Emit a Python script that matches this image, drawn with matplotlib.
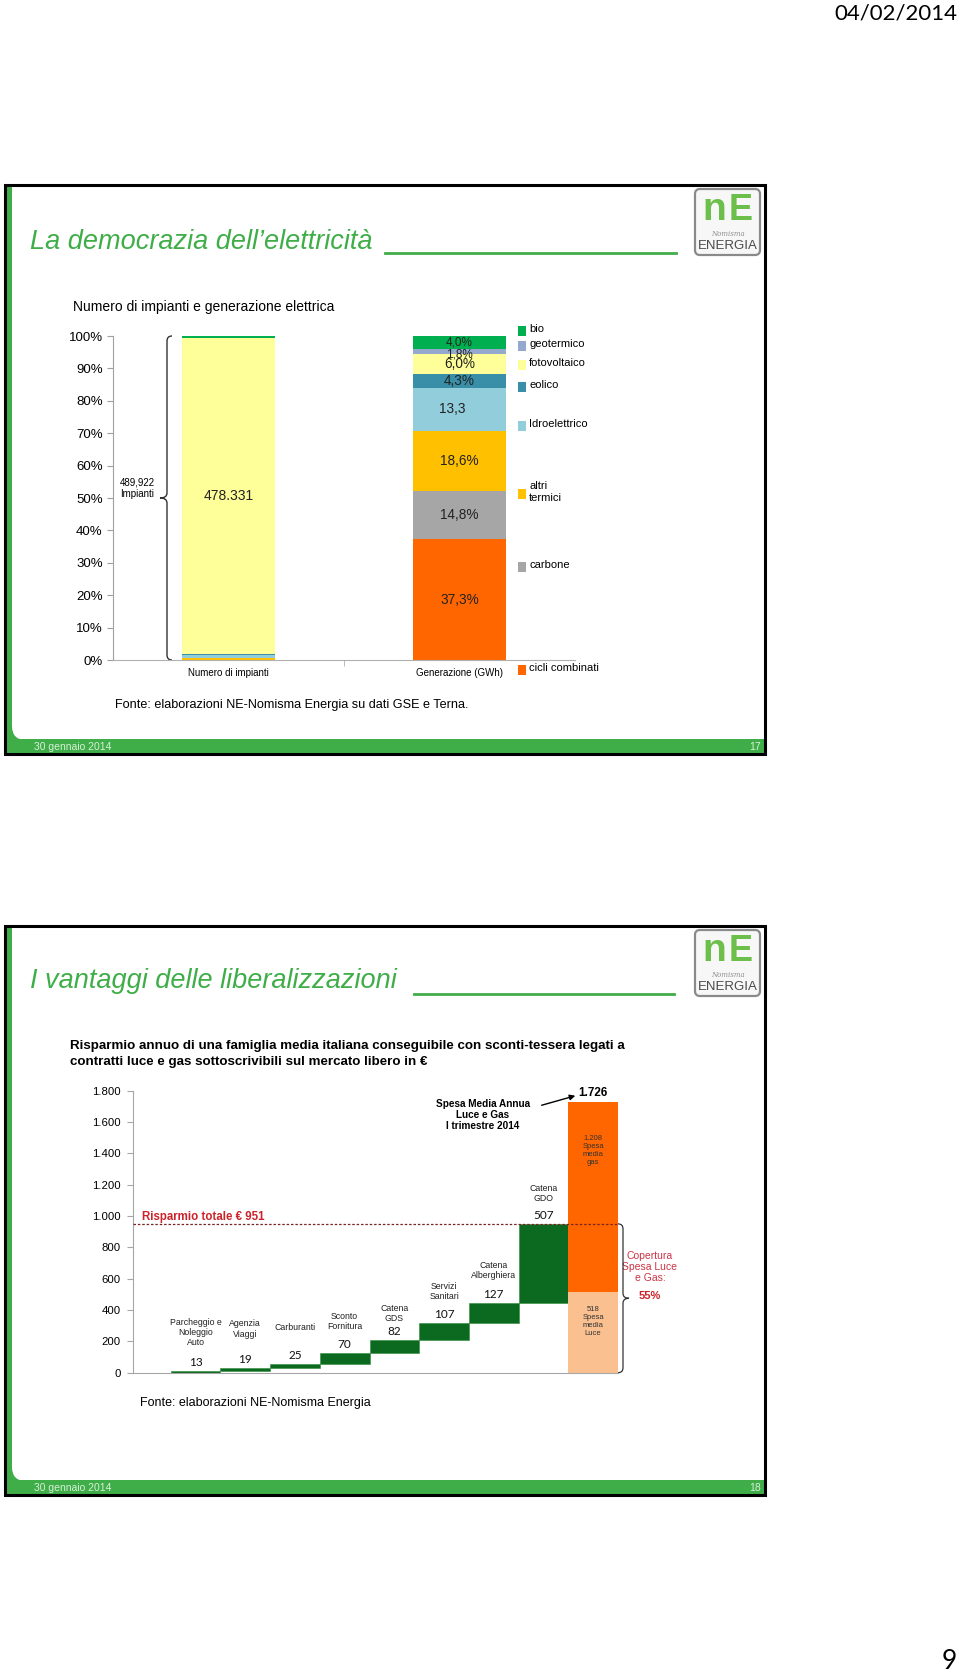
import matplotlib
matplotlib.use("Agg")
import matplotlib.pyplot as plt
from matplotlib import font_manager as fm
from matplotlib.patches import Rectangle, FancyBboxPatch, PathPatch
from matplotlib.path import Path

# ---------------- data ----------------
gen_sources = ["cicli combinati", "carbone", "altri\ntermici", "Idroelettrico",
               "eolico", "fotovoltaico", "geotermico", "bio"]
gen_colors = ["#FF6600", "#A6A6A6", "#FFC000", "#92CDDC",
              "#3A8FA8", "#FFFF99", "#95A9CF", "#00B050"]
categories1 = ["Numero di impianti", "Generazione (GWh)"]
plants_share = [0.05, 0.01, 0.70, 0.65, 0.40, 97.63, 0.01, 0.55]
generation_share = [37.3, 14.8, 18.6, 13.3, 4.3, 6.0, 1.8, 4.0]
generation_labels = ["37,3%", "14,8%", "18,6%", "13,3", "4,3%", "6,0%", "1,8%", "4,0%"]
plants_pv_label = "478.331"
plants_total_label = "489,922\nImpianti"
y1_ticks = [0, 10, 20, 30, 40, 50, 60, 70, 80, 90, 100]
y1_ticklabels = ["0%", "10%", "20%", "30%", "40%", "50%", "60%", "70%", "80%", "90%", "100%"]

saving_items = ["Parcheggio e\nNoleggio\nAuto", "Agenzia\nViaggi", "Carburanti",
                "Sconto\nFornitura", "Catena\nGDS", "Servizi\nSanitari",
                "Catena\nAlberghiera", "Catena\nGDO"]
saving_values = [13, 19, 25, 70, 82, 107, 127, 507]
spesa_luce = 518
spesa_gas = 1208
spesa_totale = 1726
y2_ticks = [0, 200, 400, 600, 800, 1000, 1200, 1400, 1600, 1800]
y2_ticklabels = ["0", "200", "400", "600", "800", "1.000", "1.200", "1.400", "1.600", "1.800"]

# ---------------- fonts ----------------
names = {f.name for f in fm.fontManager.ttflist}
SANS = "Liberation Sans"
NARROW = "Liberation Sans Narrow" if "Liberation Sans Narrow" in names else SANS
plt.rcParams["font.family"] = [SANS, "DejaVu Sans"]

W, H = 960, 1676
fig = plt.figure(figsize=(W / 100, H / 100), dpi=100)
fig.patch.set_facecolor("white")

bg = fig.add_axes([0, 0, 1, 1])
bg.set_xlim(0, W)
bg.set_ylim(H, 0)
bg.axis("off")
bg.set_zorder(0)

GREEN = "#3FAE49"


def to_px(ax, x, y):
    dx, dy = ax.transData.transform((x, y))
    return dx, H - dy


def slide(top, bottom, title, title_y, line_x0, line_x1, line_y, num):
    bg.add_patch(Rectangle((5, top), 760, bottom - top, fill=False, ec="black", lw=2.2, zorder=3))
    bg.add_patch(Rectangle((6, top + 1), 6, bottom - top - 2, fc=GREEN, ec="none", zorder=2))
    bg.add_patch(Rectangle((6, bottom - 15), 758, 14, fc=GREEN, ec="none", zorder=2))
    verts = [(12, bottom - 28), (12, bottom - 14), (26, bottom - 14), (12, bottom - 14), (12, bottom - 28)]
    codes = [Path.MOVETO, Path.CURVE3, Path.CURVE3, Path.LINETO, Path.CLOSEPOLY]
    bg.add_patch(PathPatch(Path(verts, codes), fc=GREEN, ec="none", zorder=2))
    bg.text(34, bottom - 7, "30 gennaio 2014", color="#D8F0D8", fontsize=7.5,
            family=NARROW, va="center", ha="left", zorder=4)
    bg.text(761, bottom - 7, num, color="#D8F0D8", fontsize=7.5,
            family=NARROW, va="center", ha="right", zorder=4)
    bg.text(30, title_y, title, color=GREEN, fontsize=19.5, style="italic",
            va="center", ha="left", zorder=4)
    bg.plot([line_x0, line_x1], [line_y, line_y], color=GREEN, lw=2, zorder=4)
    # logo
    lt = top + 2
    bg.add_patch(FancyBboxPatch((696, lt + 3), 63, 64, boxstyle="round,pad=1,rounding_size=5",
                                fc="#F7F7F7", ec="#8A8A8A", lw=1.6, zorder=4))
    bg.text(714, lt + 23, "n", color="#6CBF4A", fontsize=28, weight="bold",
            ha="center", va="center", zorder=5)
    bg.text(741, lt + 23, "E", color="#6CBF4A", fontsize=26, weight="bold",
            ha="center", va="center", zorder=5)
    bg.text(728, lt + 47, "Nomisma", color="#909090", fontsize=5, style="italic",
            family="DejaVu Serif", ha="center", va="center", zorder=5)
    bg.text(728, lt + 59, "ENERGIA", color="#4A4A4A", fontsize=9.5,
            family=NARROW, ha="center", va="center", zorder=5)


# page header / footer
bg.text(957, 14, "04/02/2014", fontsize=16, family="Lato", ha="right", va="center")
bg.text(957, 1674, "9", fontsize=19, family="Lato", ha="right", va="bottom")

slide(185, 754, "La democrazia dell\u2019elettricit\u00e0", 242, 385, 676, 253, "17")
slide(926, 1495, "I vantaggi delle liberalizzazioni", 981, 414, 674, 994, "18")

# ---------------- chart 1 ----------------
bg.text(73, 307, "Numero di impianti e generazione elettrica", fontsize=10,
        family=NARROW, ha="left", va="center")

ax1 = fig.add_axes([113 / W, 1 - 660 / H, 462 / W, 324 / H])
ax1.set_facecolor("none")
ax1.set_zorder(2)
ax1.set_xlim(-0.5, 1.5)
ax1.set_ylim(0, 100)
for series_idx in range(2):
    values = plants_share if series_idx == 0 else generation_share
    bottom = 0
    for v, c in zip(values, gen_colors):
        ax1.bar(series_idx, v, bottom=bottom, width=0.4, color=c, lw=0)
        bottom += v

bottom = 0
for i, (v, lab) in enumerate(zip(generation_share, generation_labels)):
    dx = -0.033 if lab == "13,3" else 0
    dy = 0
    fs = 9.8
    if lab == "1,8%":
        dy = -0.8
        fs = 8.5
    if lab == "4,0%":
        fs = 8.5
    ax1.text(1 + dx, bottom + v / 2 + dy, lab, ha="center", va="center",
             fontsize=fs, color="#222222", zorder=5)
    bottom += v
ax1.text(0, 50.5, plants_pv_label, ha="center", va="center", fontsize=10, color="#222222")

for s in ["top", "right"]:
    ax1.spines[s].set_visible(False)
ax1.spines["left"].set_color("#A0A0A0")
ax1.spines["bottom"].set_color("#B0B0B0")
ax1.set_yticks(y1_ticks)
ax1.set_yticklabels(y1_ticklabels, fontsize=9.5)
ax1.tick_params(axis="y", length=4, color="#A0A0A0", pad=3.5)
ax1.set_xticks([0, 1])
ax1.set_xticklabels(categories1, fontsize=7, family=NARROW)
ax1.tick_params(axis="x", length=0, pad=6)
ax1.set_xticks([0.5], minor=True)
ax1.tick_params(axis="x", which="minor", length=4, color="#B0B0B0")

# brace for plant count
x_b = 167
_, yt = to_px(ax1, 0, 100)
_, yb = to_px(ax1, 0, 0)
_, ym = to_px(ax1, 0, 50)
d, tip = 5, 7
verts = [(x_b + d, yt), (x_b, yt), (x_b, yt + d), (x_b, ym - d), (x_b, ym), (x_b - tip, ym),
         (x_b, ym), (x_b, ym + d), (x_b, yb - d), (x_b, yb), (x_b + d, yb)]
codes = [Path.MOVETO, Path.CURVE3, Path.CURVE3, Path.LINETO, Path.CURVE3, Path.CURVE3,
         Path.CURVE3, Path.CURVE3, Path.LINETO, Path.CURVE3, Path.CURVE3]
bg.add_patch(PathPatch(Path(verts, codes), fc="none", ec="#333333", lw=1, zorder=4))
bg.text(137, ym - 10, plants_total_label, fontsize=7, family=NARROW, ha="center",
        va="center", linespacing=1.2)

# legend placed alongside segments
legend_y_px = [670, 567, 494, 425.7, 387, 365, 346.3, 331.5]
for name, col, ly in zip(gen_sources, gen_colors, legend_y_px):
    bg.add_patch(Rectangle((518, ly - 5), 8, 10, fc=col, ec="none", zorder=4))
    bg.text(529, ly - 2, name, fontsize=8, family=NARROW, ha="left", va="center",
            linespacing=1.2, zorder=4)

bg.text(115, 705, "Fonte: elaborazioni NE-Nomisma Energia su dati GSE e Terna.",
        fontsize=9.1, family=NARROW, ha="left", va="center")

# ---------------- chart 2 ----------------
bg.text(70, 1045.5, "Risparmio annuo di una famiglia media italiana conseguibile con sconti-tessera legati a",
        fontsize=9.6, weight="bold", family=NARROW, ha="left", va="center")
bg.text(70, 1061.5, "contratti luce e gas sottoscrivibili sul mercato libero in \u20ac",
        fontsize=9.6, weight="bold", family=NARROW, ha="left", va="center")

ax2 = fig.add_axes([133 / W, 1 - 1372.7 / H, 485 / W, 282 / H])
ax2.set_facecolor("none")
ax2.set_zorder(2)
ax2.set_xlim(-1.26, 8.5)
ax2.set_ylim(0, 1800)

DGREEN = "#0B6A1F"
cum = 0
label_gap_pt = [17, 21, 23, 16, 12, 16, 17, 15]
for i, (name, v) in enumerate(zip(saving_items, saving_values)):
    ax2.bar(i, v, bottom=cum, width=1.0, color=DGREEN, ec="#2E8B3A", lw=0.4)
    top = cum + v
    ax2.annotate(str(v), (i, top), xytext=(0, 6), textcoords="offset points",
                 ha="center", va="center", fontsize=8.5, family="Lato", color="#111111")
    ax2.annotate(name, (i, top), xytext=(0, label_gap_pt[i]), textcoords="offset points",
                 ha="center", va="bottom", fontsize=6.3, family=NARROW, color="#222222",
                 linespacing=1.15)
    cum = top
total_saving = cum

xi = len(saving_values)
ax2.bar(xi, spesa_luce, bottom=0, width=1.0, color="#FAC090", lw=0)
ax2.bar(xi, spesa_gas, bottom=spesa_luce, width=1.0, color="#FF6600", lw=0)
ax2.text(xi, spesa_luce + spesa_gas * 0.745, "1.208\nSpesa\nmedia\ngas", ha="center",
         va="center", fontsize=5.5, family=NARROW, color="#333333", linespacing=1.2)
ax2.text(xi, spesa_luce * 0.63, "518\nSpesa\nmedia\nLuce", ha="center",
         va="center", fontsize=5.5, family=NARROW, color="#333333", linespacing=1.2)
ax2.annotate("1.726", (xi, spesa_totale), xytext=(0, 7), textcoords="offset points",
             ha="center", va="center", fontsize=8.5, weight="bold")

ax2.plot([-1.26, xi + 0.5], [total_saving, total_saving], color="#7A2424", lw=0.9,
         ls=(0, (2, 1.5)), zorder=3)
ax2.text(-1.08, total_saving + 45, "Risparmio totale \u20ac 951", color="#CC2229",
         fontsize=8.3, weight="bold", ha="left", va="center")

for s in ["top", "right"]:
    ax2.spines[s].set_visible(False)
ax2.spines["left"].set_color("#A6A6A6")
ax2.spines["bottom"].set_color("#A6A6A6")
ax2.set_yticks(y2_ticks)
ax2.set_yticklabels(y2_ticklabels, fontsize=8.2)
ax2.tick_params(axis="y", length=4, color="#A6A6A6", pad=4.8)
ax2.set_xticks([])

bg.text(483, 1115, "Spesa Media Annua\nLuce e Gas\nI trimestre 2014", fontsize=7.2,
        weight="bold", ha="center", va="center", linespacing=1.15)
bg.annotate("", xy=(578, 1095), xytext=(539, 1106),
            arrowprops=dict(arrowstyle="-|>", color="black", lw=1, mutation_scale=8))

# right brace for coverage
xr0, yt2 = to_px(ax2, xi + 0.5, total_saving)
_, yb2 = to_px(ax2, xi + 0.5, 0)
ym2 = yt2 + (yb2 - yt2) * 0.5
xs = xr0 + 5
d, tip = -5, -6
verts = [(xs + d, yt2), (xs, yt2), (xs, yt2 + 5), (xs, ym2 - 5), (xs, ym2), (xs - tip, ym2),
         (xs, ym2), (xs, ym2 + 5), (xs, yb2 - 5), (xs, yb2), (xs + d, yb2)]
bg.add_patch(PathPatch(Path(verts, codes), fc="none", ec="#333333", lw=0.9, zorder=4))
bg.text(650, 1267, "Copertura\nSpesa Luce\ne Gas:", color="#CC3344", fontsize=7.5,
        family=NARROW, ha="center", va="center", linespacing=1.15)
bg.text(650, 1296, "55%", color="#CC2229", fontsize=8, weight="bold", ha="center", va="center")

bg.text(140, 1403, "Fonte: elaborazioni NE-Nomisma Energia", fontsize=9,
        family=NARROW, ha="left", va="center")

fig.savefig("out.png", dpi=100)
